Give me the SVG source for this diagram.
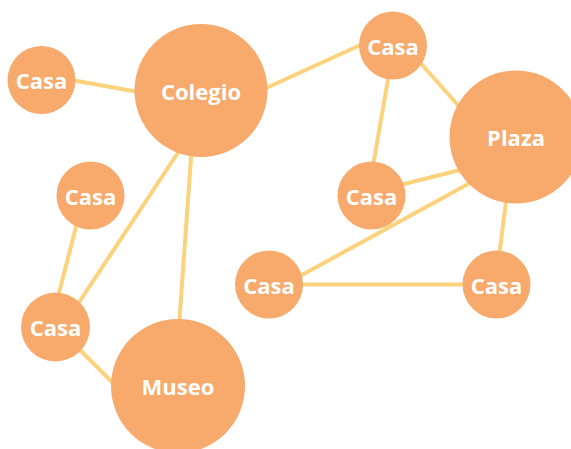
<svg xmlns="http://www.w3.org/2000/svg" width="571" height="449" viewBox="0 0 571 449">
<style>
.e{stroke:#FDD27C;stroke-width:4;fill:none;stroke-linecap:butt}
.n circle{fill:#F7AA6B}
.n text{fill:#FFFFFF;font-family:"Open Sans","DejaVu Sans",sans-serif;font-weight:700;font-size:22px;text-anchor:middle;dominant-baseline:central}
</style>
<rect width="571" height="449" fill="#FFFFFF"/>
<g id="connectors">
<line class="e" x1="60" y1="78" x2="150" y2="94"/>
<line class="e" x1="240" y1="100" x2="380" y2="36"/>
<line class="e" x1="185" y1="142" x2="70" y2="316"/>
<line class="e" x1="193" y1="130" x2="178" y2="340"/>
<line class="e" x1="84" y1="196" x2="52" y2="320"/>
<line class="e" x1="60" y1="330" x2="130" y2="400"/>
<line class="e" x1="400" y1="40" x2="480" y2="130"/>
<line class="e" x1="393" y1="50" x2="368" y2="195"/>
<line class="e" x1="380" y1="190" x2="480" y2="165"/>
<line class="e" x1="490" y1="172" x2="280" y2="287"/>
<line class="e" x1="510" y1="170" x2="496" y2="280"/>
<line class="e" x1="270" y1="284.5" x2="496" y2="284.5"/>
</g>
<g id="casa1" class="n"><circle cx="41.5" cy="80" r="34"/><text x="41.5" y="80">Casa</text></g>
<g id="colegio" class="n"><circle cx="201" cy="90.5" r="66.5"/><text x="201" y="90.5">Colegio</text></g>
<g id="casa2" class="n"><circle cx="393" cy="45.5" r="34"/><text x="393" y="45.5">Casa</text></g>
<g id="plaza" class="n"><circle cx="516" cy="137" r="66.5"/><text x="516" y="137">Plaza</text></g>
<g id="casa3" class="n"><circle cx="90.5" cy="195.5" r="34"/><text x="90.5" y="195.5">Casa</text></g>
<g id="casa4" class="n"><circle cx="371.5" cy="195.5" r="34"/><text x="371.5" y="195.5">Casa</text></g>
<g id="casa5" class="n"><circle cx="269" cy="284.5" r="34"/><text x="269" y="284.5">Casa</text></g>
<g id="casa6" class="n"><circle cx="496.5" cy="284.5" r="34"/><text x="496.5" y="284.5">Casa</text></g>
<g id="casa7" class="n"><circle cx="55.5" cy="327" r="34.5"/><text x="55.5" y="327">Casa</text></g>
<g id="museo" class="n"><circle cx="178" cy="386" r="67"/><text x="178" y="386">Museo</text></g>
</svg>
